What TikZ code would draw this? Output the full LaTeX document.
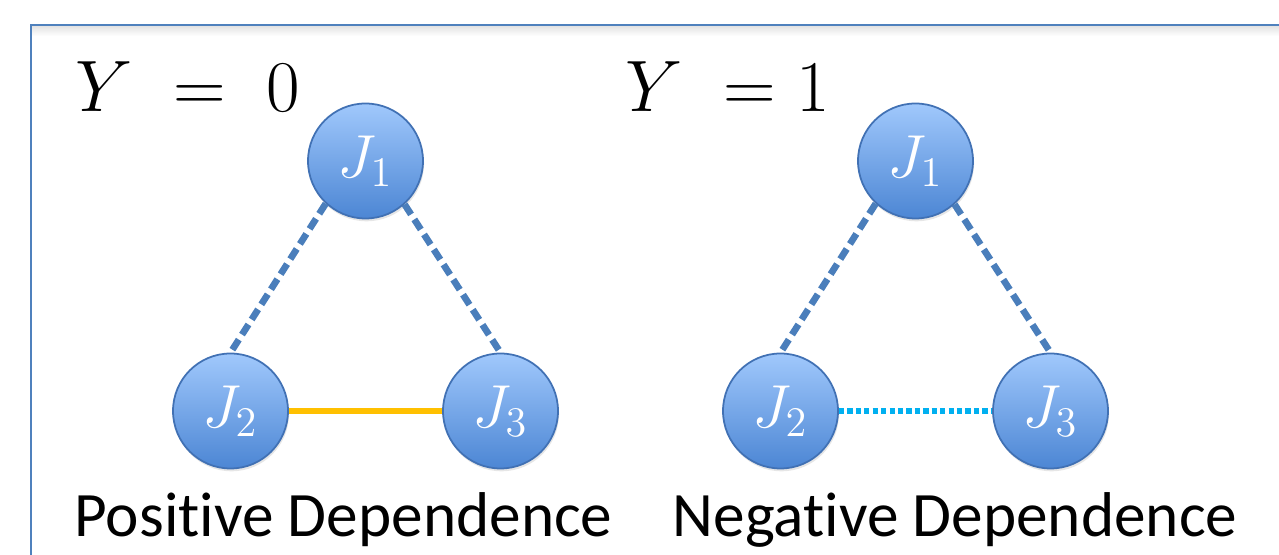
\documentclass[tikz,border=0pt]{standalone}
\usepackage{fontspec}
\newfontfamily\calibrifont[Ligatures=NoCommon]{Carlito}
\usetikzlibrary{positioning,shadows}

\definecolor{frameblue}{RGB}{79,129,189}
\definecolor{nodetop}{RGB}{160,200,252}
\definecolor{nodebottom}{RGB}{76,134,212}
\definecolor{nodeline}{RGB}{65,113,180}
\definecolor{linkblue}{RGB}{74,126,187}
\definecolor{posgold}{RGB}{255,192,0}
\definecolor{negcyan}{RGB}{0,176,240}

\begin{document}
\begin{tikzpicture}[
    node distance=2.5cm and 1.35cm, on grid,
    jnode/.style={circle, draw=nodeline, line width=0.5pt, top color=nodetop, bottom color=nodebottom,
        minimum size=1.15cm, inner sep=0pt, text=white, font=\fontsize{18}{20}\selectfont,
        drop shadow={opacity=0.2, shadow xshift=0.3pt, shadow yshift=-0.8pt}},
    ylabel/.style={anchor=base west, inner sep=0pt, font=\fontsize{19.5}{22}\selectfont},
    caption/.style={anchor=base, inner sep=0pt, font={\calibrifont\fontsize{18}{22}\selectfont}},
    depend/.style={draw=linkblue, line width=1.9pt, dash pattern=on 3.4pt off 1.7pt},
    positive/.style={draw=posgold, line width=1.7pt},
    negative/.style={draw=negcyan, line width=1.7pt, dash pattern=on 1.5pt off 0.9pt}
]
\useasboundingbox (0,0) rectangle (12.79,5.55);
\clip (0,0) rectangle (12.79,5.55);
% frame
\shade[top color=black!12, bottom color=white] (0.31,5.30) rectangle (12.79,5.19);
\draw[frameblue, line width=0.8pt] (0.31,-1) |- (14,5.30);

% Y = 0
\node[ylabel] (y0) at (0.75,4.43) {$Y\;=\;0$};
\node[jnode] (a1) at (3.655,3.94) {$J_1$};
\node[jnode, below left=of a1] (a2) {$J_2$};
\node[jnode, below right=of a1] (a3) {$J_3$};
\draw[depend] (a1.227) -- (a2.north);
\draw[depend] (a1.312) -- (a3.north);
\draw[positive] (a2) -- (a3);
\node[caption] (pos) at (3.435,0.18) {Positive Dependence};

% Y = 1
\node[ylabel] (y1) at (6.25,4.43) {$Y\;=1$};
\node[jnode] (b1) at (9.155,3.94) {$J_1$};
\node[jnode, below left=of b1] (b2) {$J_2$};
\node[jnode, below right=of b1] (b3) {$J_3$};
\draw[depend] (b1.227) -- (b2.north);
\draw[depend] (b1.312) -- (b3.north);
\draw[negative] (b2) -- (b3);
\node[caption] (neg) at (9.55,0.18) {Negative Dependence};
\end{tikzpicture}
\end{document}
